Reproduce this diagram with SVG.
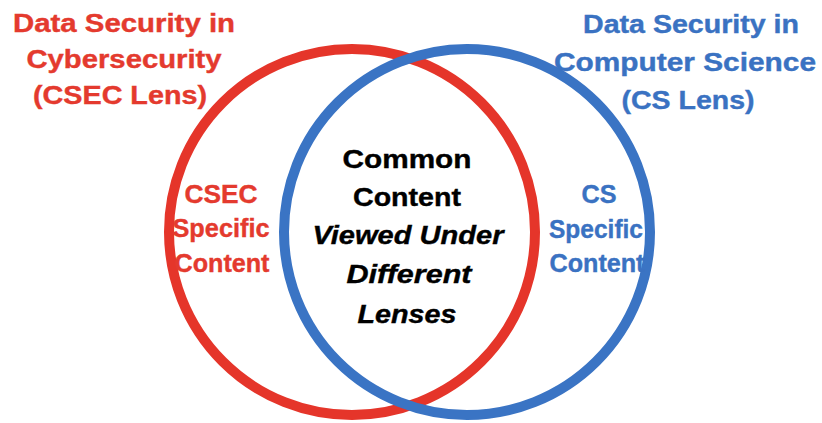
<svg xmlns="http://www.w3.org/2000/svg" width="822" height="423" viewBox="0 0 822 423">
  <style>
    text { font-family: "Liberation Sans", Arial, sans-serif; font-weight: bold; font-size: 26px; text-anchor: middle; stroke-width: 0.4; }
    .red { fill: #e43a2e; stroke: #e43a2e; }
    .blue { fill: #3a72c2; stroke: #3a72c2; }
    .dark { fill: #000000; stroke: #000000; }
    .it { font-style: italic; }
    .ring { fill: none; stroke-width: 10; }
  </style>
  <rect width="822" height="423" fill="#ffffff"/>

  <!-- the two lens circles; blue is drawn last so it sits on top at both crossings -->
  <g id="connectors">
    <circle id="csec-ring" class="ring" cx="352" cy="232" r="183" stroke="#e5352a"/>
    <circle id="cs-ring" class="ring" cx="467" cy="232" r="183" stroke="#3a74c4"/>
  </g>

  <g id="csec-title" class="red">
    <text x="124" y="32" textLength="222" lengthAdjust="spacingAndGlyphs">Data Security in</text>
    <text x="124" y="68" textLength="195" lengthAdjust="spacingAndGlyphs">Cybersecurity</text>
    <text x="120" y="104" textLength="174" lengthAdjust="spacingAndGlyphs">(CSEC Lens)</text>
  </g>

  <g id="cs-title" class="blue">
    <text x="691" y="33" textLength="216" lengthAdjust="spacingAndGlyphs">Data Security in</text>
    <text x="685" y="71" textLength="262" lengthAdjust="spacingAndGlyphs">Computer Science</text>
    <text x="688" y="109" textLength="133" lengthAdjust="spacingAndGlyphs">(CS Lens)</text>
  </g>

  <g id="csec-specific" class="red">
    <text x="221" y="203" textLength="73" lengthAdjust="spacingAndGlyphs">CSEC</text>
    <text x="221" y="237" textLength="97" lengthAdjust="spacingAndGlyphs">Specific</text>
    <text x="222" y="272" textLength="95" lengthAdjust="spacingAndGlyphs">Content</text>
  </g>

  <g id="cs-specific" class="blue">
    <text x="599" y="203" textLength="35" lengthAdjust="spacingAndGlyphs">CS</text>
    <text x="596" y="238" textLength="94" lengthAdjust="spacingAndGlyphs">Specific</text>
    <text x="597" y="272" textLength="95" lengthAdjust="spacingAndGlyphs">Content</text>
  </g>

  <g id="common-content" class="dark">
    <text x="407" y="168" textLength="129" lengthAdjust="spacingAndGlyphs">Common</text>
    <text x="407" y="206" textLength="108" lengthAdjust="spacingAndGlyphs">Content</text>
    <text class="it" x="408" y="244" textLength="191" lengthAdjust="spacingAndGlyphs">Viewed Under</text>
    <text class="it" x="409" y="283" textLength="125" lengthAdjust="spacingAndGlyphs">Different</text>
    <text class="it" x="407" y="323" textLength="99" lengthAdjust="spacingAndGlyphs">Lenses</text>
  </g>
</svg>
